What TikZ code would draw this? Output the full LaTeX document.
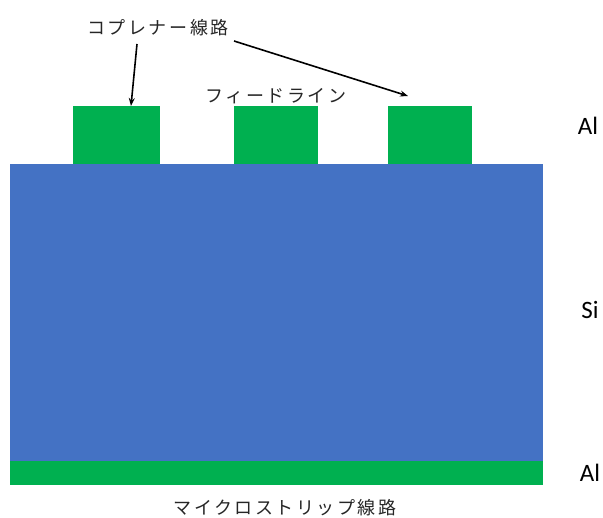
\documentclass[tikz,border=0pt]{standalone}
\usepackage{fontspec}
\setmainfont{Carlito}
\newfontfamily\jp[LetterSpace=14]{Noto Sans CJK JP}
\usetikzlibrary{arrows.meta}
\definecolor{siblue}{HTML}{4472C4}
\definecolor{algreen}{HTML}{00B050}
\definecolor{txtgray}{HTML}{262626}
\tikzset{
  layer/.style={fill=#1, draw=none, inner sep=0pt, outer sep=0pt},
  jplabel/.style={font=\jp\fontsize{18}{20}\selectfont, text=txtgray, inner sep=0pt},
  matlabel/.style={font=\fontsize{25}{27}\selectfont, inner sep=0pt},
  pointer/.style={-{Stealth[length=8pt,width=6pt]}, line width=1.6pt, black}
}
\begin{document}
\begin{tikzpicture}[x=1pt,y=-1pt]
\useasboundingbox (0,0) rectangle (603,518);
% substrate
\node[layer=siblue, minimum width=533pt, minimum height=297pt, anchor=north west] (si) at (10,164) {};
\node[layer=algreen, minimum width=533pt, minimum height=24pt, anchor=north west] (ground) at (10,461) {};
% coplanar pads
\node[layer=algreen, minimum width=87pt, minimum height=58pt, anchor=north west] (padL) at (72.5,106) {};
\node[layer=algreen, minimum width=84pt, minimum height=58pt, anchor=north west] (padC) at (234,106) {};
\node[layer=algreen, minimum width=84pt, minimum height=58pt, anchor=north west] (padR) at (388,106) {};
% labels
\node[jplabel] (cpw) at (158,28) {コプレナー線路};
\node[jplabel] (feed) at (276,96) {フィードライン};
\node[jplabel] (msl) at (285,508) {マイクロストリップ線路};
\node[matlabel, anchor=base] (al1) at (588,135) {Al};
\node[matlabel, anchor=base] (si1) at (590,319) {Si};
\node[matlabel, anchor=base] (al2) at (590,482) {Al};
% arrows
\coordinate (tipL) at (131,106);
\coordinate (tipR) at (408,96);
\coordinate (startL) at (137,44);
\coordinate (startR) at (234,41);
\draw[pointer] (startL) -- (tipL);
\draw[pointer] (startR) -- (tipR);
\end{tikzpicture}
\end{document}
